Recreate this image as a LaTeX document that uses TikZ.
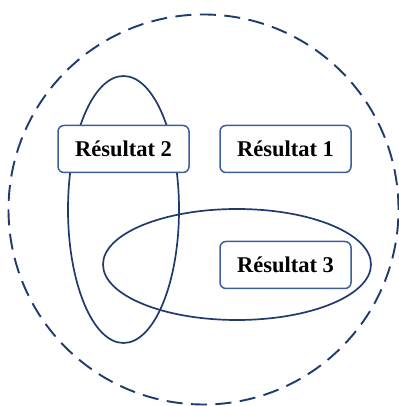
\documentclass[tikz,border=0pt]{standalone}
\usepackage{fontspec}
\setmainfont{Liberation Serif}
\usepackage{tikz}
\usetikzlibrary{positioning}
\definecolor{setblue}{HTML}{1F3A6E}
\definecolor{boxblue}{HTML}{3A5E9E}

\begin{document}
\begin{tikzpicture}[x=1pt, y=1pt, node distance=116pt]
	\tikzstyle{result} = [rectangle, rounded corners=6pt, minimum width=131pt, 
	minimum height=47pt, text centered, draw=boxblue, line width=1.5pt, fill=white, 
	font=\fontsize{22.5}{27}\selectfont\bfseries]
	\tikzstyle{setline} = [draw=setblue, line width=1.7pt]
	\useasboundingbox (0,0) rectangle (398,406);
	% ensemble et sous-ensembles
	\draw [setline, line width=1.9pt, dash pattern=on 16pt off 8.5pt] (203.5,196.5) circle (195);
	\draw [setline] (123.5,196.5) ellipse (55.5 and 133.5);
	\draw [setline] (237,141.5) ellipse (134 and 55.5);
	% resultats
	\node (res2) [result] at (123.5,257) {Résultat 2};
	\node (res1) [result, right of=res2, xshift=46pt] {Résultat 1};
	\node (res3) [result, below of=res1] {Résultat 3};
\end{tikzpicture}
\end{document}
